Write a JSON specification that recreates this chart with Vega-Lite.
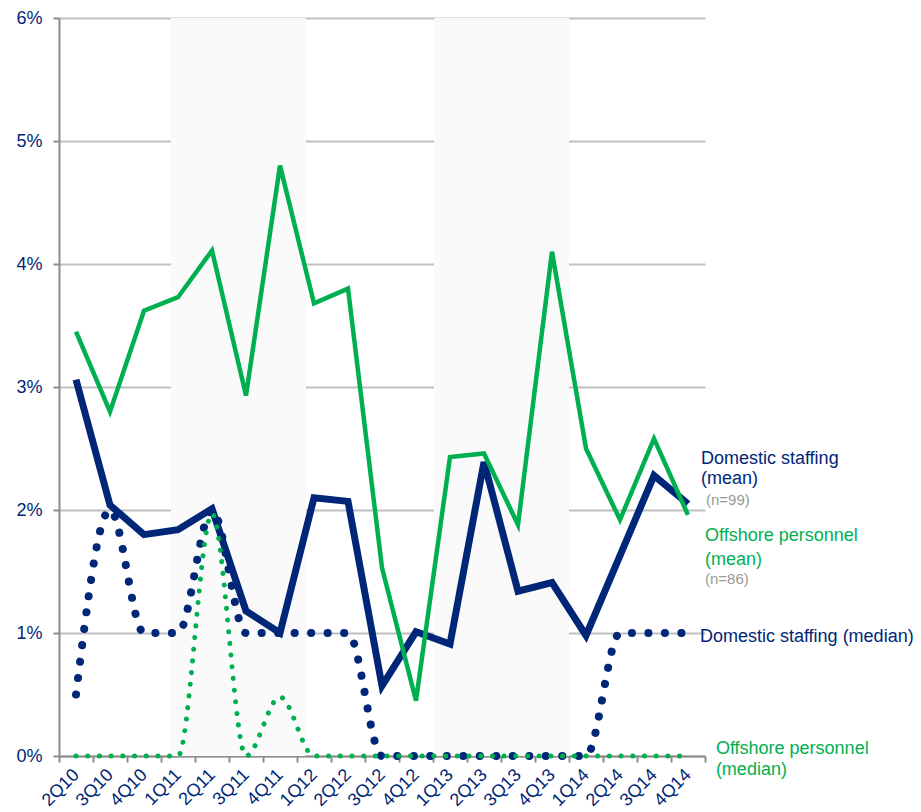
{
  "$schema": "https://vega.github.io/schema/vega-lite/v6.json",
  "width": 646,
  "height": 738,
  "autosize": {"type": "none"},
  "padding": {"left": 59, "top": 18, "right": 216, "bottom": 56},
  "background": "white",
  "config": {
    "view": {"stroke": null},
    "font": "Liberation Sans"
  },
  "datasets": {
    "series": [
      {"q": "2Q10", "s": "dom_mean", "v": 0.0306}, {"q": "3Q10", "s": "dom_mean", "v": 0.0204}, {"q": "4Q10", "s": "dom_mean", "v": 0.0180}, {"q": "1Q11", "s": "dom_mean", "v": 0.0184}, {"q": "2Q11", "s": "dom_mean", "v": 0.0201}, {"q": "3Q11", "s": "dom_mean", "v": 0.0118}, {"q": "4Q11", "s": "dom_mean", "v": 0.0100}, {"q": "1Q12", "s": "dom_mean", "v": 0.0210}, {"q": "2Q12", "s": "dom_mean", "v": 0.0207}, {"q": "3Q12", "s": "dom_mean", "v": 0.0057}, {"q": "4Q12", "s": "dom_mean", "v": 0.0101}, {"q": "1Q13", "s": "dom_mean", "v": 0.0091}, {"q": "2Q13", "s": "dom_mean", "v": 0.0239}, {"q": "3Q13", "s": "dom_mean", "v": 0.0134}, {"q": "4Q13", "s": "dom_mean", "v": 0.0141}, {"q": "1Q14", "s": "dom_mean", "v": 0.0098}, {"q": "2Q14", "s": "dom_mean", "v": 0.0163}, {"q": "3Q14", "s": "dom_mean", "v": 0.0228}, {"q": "4Q14", "s": "dom_mean", "v": 0.0205},
      {"q": "2Q10", "s": "off_mean", "v": 0.0345}, {"q": "3Q10", "s": "off_mean", "v": 0.0280}, {"q": "4Q10", "s": "off_mean", "v": 0.0362}, {"q": "1Q11", "s": "off_mean", "v": 0.0373}, {"q": "2Q11", "s": "off_mean", "v": 0.0411}, {"q": "3Q11", "s": "off_mean", "v": 0.0293}, {"q": "4Q11", "s": "off_mean", "v": 0.0480}, {"q": "1Q12", "s": "off_mean", "v": 0.0368}, {"q": "2Q12", "s": "off_mean", "v": 0.0380}, {"q": "3Q12", "s": "off_mean", "v": 0.0153}, {"q": "4Q12", "s": "off_mean", "v": 0.0045}, {"q": "1Q13", "s": "off_mean", "v": 0.0243}, {"q": "2Q13", "s": "off_mean", "v": 0.0246}, {"q": "3Q13", "s": "off_mean", "v": 0.0188}, {"q": "4Q13", "s": "off_mean", "v": 0.0410}, {"q": "1Q14", "s": "off_mean", "v": 0.0250}, {"q": "2Q14", "s": "off_mean", "v": 0.0192}, {"q": "3Q14", "s": "off_mean", "v": 0.0258}, {"q": "4Q14", "s": "off_mean", "v": 0.0196},
      {"q": "2Q10", "s": "dom_med", "v": 0.005}, {"q": "3Q10", "s": "dom_med", "v": 0.020}, {"q": "4Q10", "s": "dom_med", "v": 0.010}, {"q": "1Q11", "s": "dom_med", "v": 0.010}, {"q": "2Q11", "s": "dom_med", "v": 0.020}, {"q": "3Q11", "s": "dom_med", "v": 0.010}, {"q": "4Q11", "s": "dom_med", "v": 0.010}, {"q": "1Q12", "s": "dom_med", "v": 0.010}, {"q": "2Q12", "s": "dom_med", "v": 0.010}, {"q": "3Q12", "s": "dom_med", "v": 0.0}, {"q": "4Q12", "s": "dom_med", "v": 0.0}, {"q": "1Q13", "s": "dom_med", "v": 0.0}, {"q": "2Q13", "s": "dom_med", "v": 0.0}, {"q": "3Q13", "s": "dom_med", "v": 0.0}, {"q": "4Q13", "s": "dom_med", "v": 0.0}, {"q": "1Q14", "s": "dom_med", "v": 0.0}, {"q": "2Q14", "s": "dom_med", "v": 0.010}, {"q": "3Q14", "s": "dom_med", "v": 0.010}, {"q": "4Q14", "s": "dom_med", "v": 0.010},
      {"q": "2Q10", "s": "off_med", "v": 0.0}, {"q": "3Q10", "s": "off_med", "v": 0.0}, {"q": "4Q10", "s": "off_med", "v": 0.0}, {"q": "1Q11", "s": "off_med", "v": 0.0}, {"q": "2Q11", "s": "off_med", "v": 0.0197}, {"q": "3Q11", "s": "off_med", "v": 0.0}, {"q": "4Q11", "s": "off_med", "v": 0.0048}, {"q": "1Q12", "s": "off_med", "v": 0.0}, {"q": "2Q12", "s": "off_med", "v": 0.0}, {"q": "3Q12", "s": "off_med", "v": 0.0}, {"q": "4Q12", "s": "off_med", "v": 0.0}, {"q": "1Q13", "s": "off_med", "v": 0.0}, {"q": "2Q13", "s": "off_med", "v": 0.0}, {"q": "3Q13", "s": "off_med", "v": 0.0}, {"q": "4Q13", "s": "off_med", "v": 0.0}, {"q": "1Q14", "s": "off_med", "v": 0.0}, {"q": "2Q14", "s": "off_med", "v": 0.0}, {"q": "3Q14", "s": "off_med", "v": 0.0}, {"q": "4Q14", "s": "off_med", "v": 0.0}
    ],
    "bands": [
      {"start": 3.29, "end": 7.26},
      {"start": 11.03, "end": 15.0}
    ],
    "labels": [
      {"t": "Domestic staffing", "g": "dom", "u": 18.88, "v": 0.02374},
      {"t": "(mean)", "g": "dom", "u": 18.88, "v": 0.02211},
      {"t": "(n=99)", "g": "n", "u": 19.03, "v": 0.02041},
      {"t": "Offshore personnel", "g": "off", "u": 19.0, "v": 0.01748},
      {"t": "(mean)", "g": "off", "u": 19.0, "v": 0.01553},
      {"t": "(n=86)", "g": "n", "u": 19.0, "v": 0.01398},
      {"t": "Domestic staffing (median)", "g": "dom", "u": 18.85, "v": 0.00927},
      {"t": "Offshore personnel", "g": "off", "u": 19.32, "v": 0.00016},
      {"t": "(median)", "g": "off", "u": 19.32, "v": -0.00154}
    ]
  },
  "layer": [
    {
      "data": {"name": "bands"},
      "mark": {"type": "rect", "color": "#fafafa"},
      "encoding": {
        "x": {"field": "start", "type": "quantitative", "scale": {"domain": [0, 19], "nice": false, "zero": false}, "axis": null},
        "x2": {"field": "end"}
      }
    },
    {
      "data": {"name": "series"},
      "encoding": {
        "x": {
          "field": "q", "type": "ordinal",
          "scale": {"type": "band", "paddingInner": 0, "paddingOuter": 0,
            "domain": ["2Q10","3Q10","4Q10","1Q11","2Q11","3Q11","4Q11","1Q12","2Q12","3Q12","4Q12","1Q13","2Q13","3Q13","4Q13","1Q14","2Q14","3Q14","4Q14"]},
          "axis": {
            "title": null, "labelAngle": -45, "labelAlign": "right", "labelBaseline": "middle",
            "labelFontSize": 18, "labelColor": "#002677", "labelFont": "Liberation Sans",
            "tickBand": "extent", "tickSize": 6, "tickColor": "#8c8c8c", "tickWidth": 2,
            "domainColor": "#8c8c8c", "domainWidth": 2, "labelPadding": 10, "labelOffset": 0,
            "grid": false
          }
        },
        "y": {
          "field": "v", "type": "quantitative",
          "scale": {"domain": [0, 0.06], "nice": false},
          "axis": {
            "title": null, "format": ".0%", "values": [0, 0.01, 0.02, 0.03, 0.04, 0.05, 0.06],
            "labelFontSize": 18, "labelColor": "#002677", "labelFont": "Liberation Sans",
            "tickSize": 6, "tickColor": "#8c8c8c", "tickWidth": 2, "labelPadding": 11,
            "domainColor": "#8c8c8c", "domainWidth": 2,
            "grid": true, "gridColor": "#bfbfbf", "gridWidth": 2
          }
        }
      },
      "layer": [
        {
          "transform": [{"filter": "datum.s === 'dom_med'"}],
          "mark": {"type": "line", "color": "#002677", "strokeWidth": 8, "strokeCap": "round", "strokeDash": [0.1, 16.4], "interpolate": "monotone"}
        },
        {
          "transform": [{"filter": "datum.s === 'dom_mean'"}],
          "mark": {"type": "line", "color": "#002677", "strokeWidth": 7, "strokeJoin": "miter"}
        },
        {
          "transform": [{"filter": "datum.s === 'off_med'"}],
          "mark": {"type": "line", "color": "#00b050", "strokeWidth": 5, "strokeCap": "round", "strokeDash": [0.1, 11.6], "interpolate": "monotone"}
        },
        {
          "transform": [{"filter": "datum.s === 'off_mean'"}],
          "mark": {"type": "line", "color": "#00b050", "strokeWidth": 4.5, "strokeJoin": "miter"}
        }
      ]
    },
    {
      "data": {"name": "labels"},
      "transform": [{"filter": "datum.g !== 'n'"}],
      "mark": {"type": "text", "align": "left", "baseline": "alphabetic", "fontSize": 18, "font": "Liberation Sans", "clip": false},
      "encoding": {
        "x": {"field": "u", "type": "quantitative", "scale": {"domain": [0, 19], "nice": false, "zero": false}, "axis": null},
        "y": {"field": "v", "type": "quantitative", "scale": {"domain": [0, 0.06], "nice": false}},
        "text": {"field": "t"},
        "color": {"field": "g", "type": "nominal", "scale": {"domain": ["dom", "off"], "range": ["#002677", "#00b050"]}, "legend": null}
      }
    },
    {
      "data": {"name": "labels"},
      "transform": [{"filter": "datum.g === 'n'"}],
      "mark": {"type": "text", "align": "left", "baseline": "alphabetic", "fontSize": 15, "font": "Liberation Sans", "color": "#999999", "clip": false},
      "encoding": {
        "x": {"field": "u", "type": "quantitative", "scale": {"domain": [0, 19], "nice": false, "zero": false}, "axis": null},
        "y": {"field": "v", "type": "quantitative", "scale": {"domain": [0, 0.06], "nice": false}},
        "text": {"field": "t"}
      }
    }
  ],
  "resolve": {"scale": {"x": "independent"}}
}
